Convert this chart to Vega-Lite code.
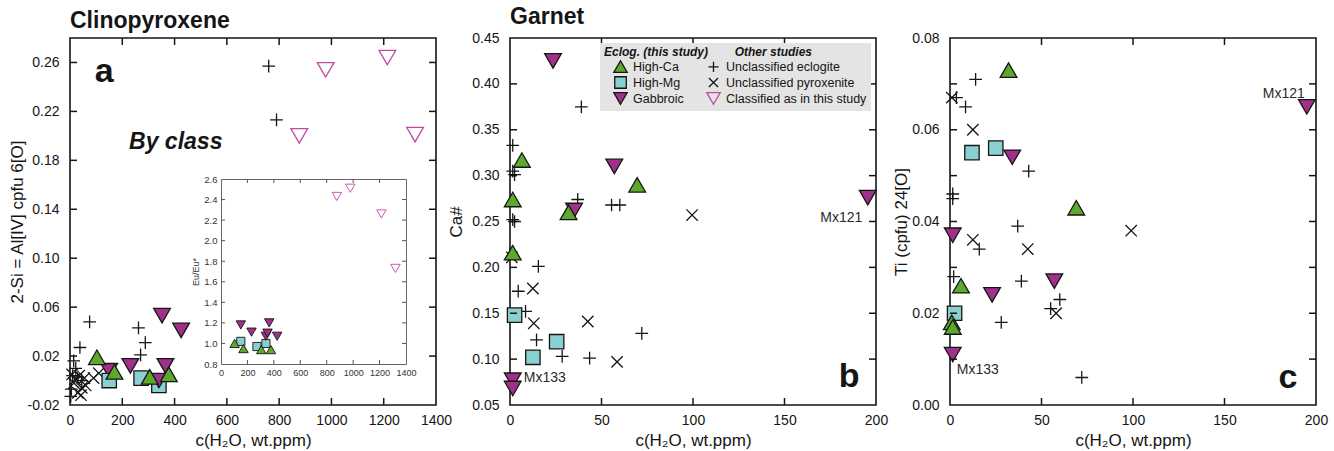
{
  "$schema": "https://vega.github.io/schema/vega-lite/v6.json",
  "background": "white",
  "padding": {"left": 7, "top": 5, "right": 5, "bottom": 5},
  "config": {
    "font": "Liberation Sans",
    "view": {"stroke": "#151515", "strokeWidth": 1.6},
    "axis": {
      "grid": false, "domain": false,
      "labelFont": "Liberation Sans", "labelFontSize": 14, "labelColor": "#151515",
      "titleFont": "Liberation Sans", "titleFontSize": 17, "titleFontWeight": "normal", "titleColor": "#151515", "titlePadding": 5
    },
    "axisX": {"labelPadding": 8},
    "axisY": {"labelPadding": 11},
    "title": {"font": "Liberation Sans", "fontSize": 23, "fontWeight": "bold", "anchor": "start", "frame": "group", "baseline": "alphabetic", "offset": 2, "color": "#151515"},
    "legend": {
      "orient": "top-right", "offset": 5, "fillColor": "#e4e4e4", "padding": 4,
      "columns": 2, "columnPadding": 13, "rowPadding": -4,
      "symbolSize": 180, "symbolStrokeWidth": 1.3, "symbolOffset": 9,
      "labelFont": "Liberation Sans", "labelFontSize": 12.5, "labelColor": "#151515", "labelOffset": 5, "labelLimit": 250,
      "titleFont": "Liberation Sans", "titleFontSize": 12, "titleFontStyle": "italic", "titleFontWeight": "bold", "titleColor": "#151515", "titleLimit": 320, "titlePadding": 0
    }
  },
  "datasets": {
    "xA": [{"t": 200}, {"t": 400}, {"t": 600}, {"t": 800}, {"t": 1000}, {"t": 1200}],
    "yA": [{"t": 0.02}, {"t": 0.06}, {"t": 0.1}, {"t": 0.14}, {"t": 0.18}, {"t": 0.22}, {"t": 0.26}],
    "xG": [{"t": 50}, {"t": 100}, {"t": 150}],
    "yB": [{"t": 0.1}, {"t": 0.15}, {"t": 0.2}, {"t": 0.25}, {"t": 0.3}, {"t": 0.35}, {"t": 0.4}],
    "yC": [{"t": 0.01}, {"t": 0.02}, {"t": 0.03}, {"t": 0.04}, {"t": 0.05}, {"t": 0.06}, {"t": 0.07}],
    "yIn": [{"t": 1.0}, {"t": 1.2}, {"t": 1.4}, {"t": 1.6}, {"t": 1.8}, {"t": 2.0}, {"t": 2.2}, {"t": 2.4}],
    "cpx": [
      {"cls": "Unclassified eclogite", "h2o": 760, "al": 0.257},
      {"cls": "Unclassified eclogite", "h2o": 790, "al": 0.213},
      {"cls": "Unclassified eclogite", "h2o": 75, "al": 0.048},
      {"cls": "Unclassified eclogite", "h2o": 38, "al": 0.027},
      {"cls": "Unclassified eclogite", "h2o": 262, "al": 0.043},
      {"cls": "Unclassified eclogite", "h2o": 288, "al": 0.031},
      {"cls": "Unclassified eclogite", "h2o": 270, "al": 0.021},
      {"cls": "Unclassified eclogite", "h2o": 14, "al": 0.016},
      {"cls": "Unclassified eclogite", "h2o": 22, "al": 0.010},
      {"cls": "Unclassified eclogite", "h2o": 5, "al": -0.007},
      {"cls": "Unclassified eclogite", "h2o": 3, "al": -0.013},
      {"cls": "Unclassified eclogite", "h2o": 30, "al": 0.003},
      {"cls": "Unclassified eclogite", "h2o": 10, "al": 0.004},
      {"cls": "Unclassified eclogite", "h2o": 45, "al": 0.0},
      {"cls": "Unclassified pyroxenite", "h2o": 8, "al": 0.005},
      {"cls": "Unclassified pyroxenite", "h2o": 20, "al": 0.001},
      {"cls": "Unclassified pyroxenite", "h2o": 35, "al": 0.004},
      {"cls": "Unclassified pyroxenite", "h2o": 45, "al": -0.006},
      {"cls": "Unclassified pyroxenite", "h2o": 55, "al": 0.002},
      {"cls": "Unclassified pyroxenite", "h2o": 30, "al": -0.010},
      {"cls": "Unclassified pyroxenite", "h2o": 90, "al": 0.002},
      {"cls": "Unclassified pyroxenite", "h2o": 110, "al": 0.006},
      {"cls": "Unclassified pyroxenite", "h2o": 60, "al": -0.004},
      {"cls": "Unclassified pyroxenite", "h2o": 15, "al": -0.002},
      {"cls": "Unclassified pyroxenite", "h2o": 42, "al": -0.012},
      {"cls": "Gabbroic", "h2o": 150, "al": 0.008, "eu": 1.18},
      {"cls": "High-Mg", "h2o": 150, "al": 0.000, "eu": 1.02},
      {"cls": "High-Mg", "h2o": 272, "al": 0.002, "eu": 0.97},
      {"cls": "High-Mg", "h2o": 340, "al": -0.004, "eu": 1.00},
      {"cls": "Gabbroic", "h2o": 231, "al": 0.012, "eu": 1.11},
      {"cls": "Gabbroic", "h2o": 340, "al": 0.000, "eu": 1.07},
      {"cls": "Gabbroic", "h2o": 352, "al": 0.053, "eu": 1.10},
      {"cls": "Gabbroic", "h2o": 365, "al": 0.012, "eu": 1.20},
      {"cls": "Gabbroic", "h2o": 425, "al": 0.041, "eu": 1.07},
      {"cls": "High-Ca", "h2o": 103, "al": 0.019, "eu": 1.00},
      {"cls": "High-Ca", "h2o": 170, "al": 0.007, "eu": 0.95},
      {"cls": "High-Ca", "h2o": 305, "al": 0.003, "eu": 0.94},
      {"cls": "High-Ca", "h2o": 378, "al": 0.005, "eu": 0.94},
      {"cls": "Classified as in this study", "h2o": 877, "al": 0.200, "eu": 2.43},
      {"cls": "Classified as in this study", "h2o": 978, "al": 0.254, "eu": 2.51},
      {"cls": "Classified as in this study", "h2o": 1214, "al": 0.264, "eu": 2.26},
      {"cls": "Classified as in this study", "h2o": 1320, "al": 0.201, "eu": 1.73}
    ],
    "grtCa": [
      {"cls": "Unclassified eclogite", "h2o": 39, "v": 0.375},
      {"cls": "Unclassified eclogite", "h2o": 1.5, "v": 0.333},
      {"cls": "Unclassified eclogite", "h2o": 1.5, "v": 0.305},
      {"cls": "Unclassified eclogite", "h2o": 2.5, "v": 0.301},
      {"cls": "Unclassified eclogite", "h2o": 37, "v": 0.274},
      {"cls": "Unclassified eclogite", "h2o": 55.5, "v": 0.268},
      {"cls": "Unclassified eclogite", "h2o": 60, "v": 0.268},
      {"cls": "Unclassified eclogite", "h2o": 1.5, "v": 0.252},
      {"cls": "Unclassified eclogite", "h2o": 2.5, "v": 0.250},
      {"cls": "Unclassified eclogite", "h2o": 15.5, "v": 0.201},
      {"cls": "Unclassified eclogite", "h2o": 4.5, "v": 0.174},
      {"cls": "Unclassified eclogite", "h2o": 8.5, "v": 0.152},
      {"cls": "Unclassified eclogite", "h2o": 72, "v": 0.128},
      {"cls": "Unclassified eclogite", "h2o": 14.5, "v": 0.121},
      {"cls": "Unclassified eclogite", "h2o": 28.5, "v": 0.103},
      {"cls": "Unclassified eclogite", "h2o": 43.5, "v": 0.101},
      {"cls": "Unclassified pyroxenite", "h2o": 99.5, "v": 0.257},
      {"cls": "Unclassified pyroxenite", "h2o": 1, "v": 0.211},
      {"cls": "Unclassified pyroxenite", "h2o": 12.5, "v": 0.177},
      {"cls": "Unclassified pyroxenite", "h2o": 13, "v": 0.139},
      {"cls": "Unclassified pyroxenite", "h2o": 42.5, "v": 0.141},
      {"cls": "Unclassified pyroxenite", "h2o": 58.5, "v": 0.097},
      {"cls": "High-Mg", "h2o": 2.5, "v": 0.148},
      {"cls": "High-Mg", "h2o": 25.5, "v": 0.119},
      {"cls": "High-Mg", "h2o": 12.5, "v": 0.102},
      {"cls": "Gabbroic", "h2o": 23.5, "v": 0.425},
      {"cls": "Gabbroic", "h2o": 57, "v": 0.310},
      {"cls": "Gabbroic", "h2o": 35, "v": 0.262},
      {"cls": "Gabbroic", "h2o": 195.5, "v": 0.276},
      {"cls": "Gabbroic", "h2o": 1.5, "v": 0.077},
      {"cls": "Gabbroic", "h2o": 1.5, "v": 0.068},
      {"cls": "High-Ca", "h2o": 6.5, "v": 0.317},
      {"cls": "High-Ca", "h2o": 69.5, "v": 0.290},
      {"cls": "High-Ca", "h2o": 1.5, "v": 0.274},
      {"cls": "High-Ca", "h2o": 32, "v": 0.260},
      {"cls": "High-Ca", "h2o": 1.5, "v": 0.216}
    ],
    "grtTi": [
      {"cls": "Unclassified eclogite", "h2o": 14, "v": 0.071},
      {"cls": "Unclassified eclogite", "h2o": 3.5, "v": 0.067},
      {"cls": "Unclassified eclogite", "h2o": 8.5, "v": 0.065},
      {"cls": "Unclassified eclogite", "h2o": 43, "v": 0.051},
      {"cls": "Unclassified eclogite", "h2o": 1.5, "v": 0.046},
      {"cls": "Unclassified eclogite", "h2o": 1.5, "v": 0.045},
      {"cls": "Unclassified eclogite", "h2o": 37, "v": 0.039},
      {"cls": "Unclassified eclogite", "h2o": 16, "v": 0.034},
      {"cls": "Unclassified eclogite", "h2o": 2, "v": 0.028},
      {"cls": "Unclassified eclogite", "h2o": 39, "v": 0.027},
      {"cls": "Unclassified eclogite", "h2o": 60, "v": 0.023},
      {"cls": "Unclassified eclogite", "h2o": 55, "v": 0.021},
      {"cls": "Unclassified eclogite", "h2o": 28, "v": 0.018},
      {"cls": "Unclassified eclogite", "h2o": 72, "v": 0.006},
      {"cls": "Unclassified pyroxenite", "h2o": 1, "v": 0.067},
      {"cls": "Unclassified pyroxenite", "h2o": 12.5, "v": 0.060},
      {"cls": "Unclassified pyroxenite", "h2o": 99, "v": 0.038},
      {"cls": "Unclassified pyroxenite", "h2o": 12.5, "v": 0.036},
      {"cls": "Unclassified pyroxenite", "h2o": 42.5, "v": 0.034},
      {"cls": "Unclassified pyroxenite", "h2o": 58, "v": 0.020},
      {"cls": "High-Mg", "h2o": 12, "v": 0.055},
      {"cls": "High-Mg", "h2o": 25, "v": 0.056},
      {"cls": "High-Mg", "h2o": 2.5, "v": 0.020},
      {"cls": "Gabbroic", "h2o": 34, "v": 0.054},
      {"cls": "Gabbroic", "h2o": 1.5, "v": 0.037},
      {"cls": "Gabbroic", "h2o": 57, "v": 0.027},
      {"cls": "Gabbroic", "h2o": 23, "v": 0.024},
      {"cls": "Gabbroic", "h2o": 1.5, "v": 0.011},
      {"cls": "Gabbroic", "h2o": 195, "v": 0.065},
      {"cls": "High-Ca", "h2o": 32, "v": 0.073},
      {"cls": "High-Ca", "h2o": 69, "v": 0.043},
      {"cls": "High-Ca", "h2o": 6, "v": 0.026},
      {"cls": "High-Ca", "h2o": 1, "v": 0.018},
      {"cls": "High-Ca", "h2o": 1.5, "v": 0.017}
    ]
  },
  "bounds": "flush",
  "spacing": 74,
  "resolve": {
    "scale": {"shape": "independent", "fill": "independent", "stroke": "independent"},
    "legend": {"shape": "independent", "fill": "independent", "stroke": "independent"}
  },
  "hconcat": [
    {
      "title": "Clinopyroxene",
      "width": 366,
      "height": 367,
      "layer": [
        {
          "layer": [
            {
              "data": {"name": "cpx"},
              "mark": {"type": "point", "filled": true, "opacity": 1, "size": 280, "strokeWidth": 1.3},
              "encoding": {
                "x": {"field": "h2o", "type": "quantitative", "scale": {"domain": [0, 1400], "nice": false, "zero": false},
                      "axis": {"orient": "bottom", "ticks": false, "tickSize": 0, "values": [0, 200, 400, 600, 800, 1000, 1200, 1400], "format": "d", "labelFlush": false, "labelOverlap": false, "title": "c(H₂O, wt.ppm)"}},
                "y": {"field": "al", "type": "quantitative", "scale": {"domain": [-0.02, 0.28], "nice": false, "zero": false},
                      "axis": {"orient": "left", "ticks": false, "tickSize": 0, "values": [-0.02, 0.02, 0.06, 0.1, 0.14, 0.18, 0.22, 0.26], "labelExpr": "replace(format(datum.value, '.2f'), '\u2212', '-')", "titlePadding": 1, "title": "2-Si = Al[IV] cpfu 6[O]"}},
                "shape": {"field": "cls", "type": "nominal", "legend": null,
                          "scale": {"domain": ["High-Ca", "High-Mg", "Gabbroic", "Unclassified eclogite", "Unclassified pyroxenite", "Classified as in this study"],
                                    "range": ["triangle-up", "M-0.86,-0.86H0.86V0.86H-0.86Z", "triangle-down", "M-0.76,0H0.76M0,-0.76V0.76", "M-0.68,-0.68L0.68,0.68M0.68,-0.68L-0.68,0.68", "triangle-down"]}},
                "fill": {"field": "cls", "type": "nominal", "legend": null,
                         "scale": {"domain": ["High-Ca", "High-Mg", "Gabbroic", "Unclassified eclogite", "Unclassified pyroxenite", "Classified as in this study"],
                                   "range": ["#5CA92E", "#8BD0D0", "#A0308C", "transparent", "transparent", "transparent"]}},
                "stroke": {"field": "cls", "type": "nominal", "legend": null,
                           "scale": {"domain": ["High-Ca", "High-Mg", "Gabbroic", "Unclassified eclogite", "Unclassified pyroxenite", "Classified as in this study"],
                                     "range": ["#151515", "#151515", "#151515", "#151515", "#151515", "#C24BA8"]}}
              }
            },
            {
              "data": {"name": "xA"},
              "mark": {"type": "point", "shape": "M0,0V-1", "size": 196, "filled": false, "stroke": "#151515", "strokeWidth": 1.5, "opacity": 1},
              "encoding": {
                "x": {"field": "t", "type": "quantitative", "scale": {"domain": [0, 1400], "nice": false, "zero": false}, "axis": null},
                "y": {"datum": -0.02, "type": "quantitative", "scale": {"domain": [-0.02, 0.28], "nice": false, "zero": false}, "axis": null}
              }
            },
            {
              "data": {"name": "xA"},
              "mark": {"type": "point", "shape": "M0,0V1", "size": 196, "filled": false, "stroke": "#151515", "strokeWidth": 1.5, "opacity": 1},
              "encoding": {
                "x": {"field": "t", "type": "quantitative", "scale": {"domain": [0, 1400], "nice": false, "zero": false}, "axis": null},
                "y": {"datum": 0.28, "type": "quantitative", "scale": {"domain": [-0.02, 0.28], "nice": false, "zero": false}, "axis": null}
              }
            },
            {
              "data": {"name": "yA"},
              "mark": {"type": "point", "shape": "M0,0H1", "size": 196, "filled": false, "stroke": "#151515", "strokeWidth": 1.5, "opacity": 1},
              "encoding": {
                "x": {"datum": 0, "type": "quantitative", "scale": {"domain": [0, 1400], "nice": false, "zero": false}, "axis": null},
                "y": {"field": "t", "type": "quantitative", "scale": {"domain": [-0.02, 0.28], "nice": false, "zero": false}, "axis": null}
              }
            },
            {
              "data": {"name": "yA"},
              "mark": {"type": "point", "shape": "M0,0H-1", "size": 196, "filled": false, "stroke": "#151515", "strokeWidth": 1.5, "opacity": 1},
              "encoding": {
                "x": {"datum": 1400, "type": "quantitative", "scale": {"domain": [0, 1400], "nice": false, "zero": false}, "axis": null},
                "y": {"field": "t", "type": "quantitative", "scale": {"domain": [-0.02, 0.28], "nice": false, "zero": false}, "axis": null}
              }
            },
            {
              "data": {"values": [{"h2o": 95, "al": 0.244, "tag": "a"}]},
              "mark": {"type": "text", "fontSize": 34, "fontWeight": "bold", "align": "left", "baseline": "alphabetic", "color": "#151515"},
              "encoding": {
                "x": {"field": "h2o", "type": "quantitative", "scale": {"domain": [0, 1400], "nice": false, "zero": false}, "axis": null},
                "y": {"field": "al", "type": "quantitative", "scale": {"domain": [-0.02, 0.28], "nice": false, "zero": false}, "axis": null},
                "text": {"field": "tag"}
              }
            },
            {
              "data": {"values": [{"h2o": 226, "al": 0.189, "tag": "By class"}]},
              "mark": {"type": "text", "fontSize": 23, "fontWeight": "bold", "fontStyle": "italic", "align": "left", "baseline": "alphabetic", "color": "#151515"},
              "encoding": {
                "x": {"field": "h2o", "type": "quantitative", "scale": {"domain": [0, 1400], "nice": false, "zero": false}, "axis": null},
                "y": {"field": "al", "type": "quantitative", "scale": {"domain": [-0.02, 0.28], "nice": false, "zero": false}, "axis": null},
                "text": {"field": "tag"}
              }
            }
          ],
          "resolve": {"axis": {"x": "independent", "y": "independent"}}
        },
        {
          "layer": [
            {
              "data": {"name": "cpx"},
              "transform": [{"filter": "isValid(datum.eu)"}],
              "mark": {"type": "point", "filled": true, "opacity": 1, "size": 90, "strokeWidth": 0.9},
              "encoding": {
                "x": {"field": "h2o", "type": "quantitative", "scale": {"domain": [0, 1400], "range": [151, 336], "nice": false, "zero": false},
                      "axis": {"orient": "bottom", "offset": -41, "ticks": false, "tickSize": 0, "values": [0, 200, 400, 600, 800, 1000, 1200, 1400], "format": "d", "labelFlush": false, "labelOverlap": false, "title": null,
                               "domain": true, "domainColor": "#666", "domainWidth": 1,
                               "labelFontSize": 9, "labelColor": "#333", "labelPadding": 4}},
                "y": {"field": "eu", "type": "quantitative", "scale": {"domain": [0.8, 2.6], "range": [326, 141], "nice": false, "zero": false},
                      "axis": {"orient": "left", "offset": -151, "ticks": false, "tickSize": 0, "values": [0.8, 1.0, 1.2, 1.4, 1.6, 1.8, 2.0, 2.2, 2.4, 2.6], "format": ".1f", "labelOverlap": false, "title": "Eu/Eu*",
                               "domain": true, "domainColor": "#666", "domainWidth": 1,
                               "labelFontSize": 9.5, "labelColor": "#333", "labelPadding": 4, "titleFontSize": 9, "titlePadding": 3, "titleColor": "#333"}},
                "shape": {"field": "cls", "type": "nominal", "legend": null,
                          "scale": {"domain": ["High-Ca", "High-Mg", "Gabbroic", "Unclassified eclogite", "Unclassified pyroxenite", "Classified as in this study"],
                                    "range": ["triangle-up", "M-0.86,-0.86H0.86V0.86H-0.86Z", "triangle-down", "M-0.76,0H0.76M0,-0.76V0.76", "M-0.68,-0.68L0.68,0.68M0.68,-0.68L-0.68,0.68", "triangle-down"]}},
                "fill": {"field": "cls", "type": "nominal", "legend": null,
                         "scale": {"domain": ["High-Ca", "High-Mg", "Gabbroic", "Unclassified eclogite", "Unclassified pyroxenite", "Classified as in this study"],
                                   "range": ["#5CA92E", "#8BD0D0", "#A0308C", "transparent", "transparent", "transparent"]}},
                "stroke": {"field": "cls", "type": "nominal", "legend": null,
                           "scale": {"domain": ["High-Ca", "High-Mg", "Gabbroic", "Unclassified eclogite", "Unclassified pyroxenite", "Classified as in this study"],
                                     "range": ["#151515", "#151515", "#151515", "#151515", "#151515", "#C24BA8"]}}
              }
            },
            {
              "data": {"name": "cpx"},
              "transform": [{"filter": "isValid(datum.eu)"}],
              "mark": {"type": "point", "opacity": 0},
              "encoding": {
                "x": {"field": "h2o", "type": "quantitative", "scale": {"domain": [0, 1400], "range": [151, 336], "nice": false, "zero": false},
                      "axis": {"orient": "top", "offset": -141, "ticks": false, "labels": false, "title": null, "domain": true, "domainColor": "#666", "domainWidth": 1}},
                "y": {"field": "eu", "type": "quantitative", "scale": {"domain": [0.8, 2.6], "range": [326, 141], "nice": false, "zero": false},
                      "axis": {"orient": "right", "offset": -30, "ticks": false, "labels": false, "title": null, "domain": true, "domainColor": "#666", "domainWidth": 1}}
              }
            },
            {
              "data": {"name": "xA"},
              "mark": {"type": "point", "shape": "M0,0V-1", "size": 64, "filled": false, "stroke": "#555", "strokeWidth": 1, "opacity": 1},
              "encoding": {
                "x": {"field": "t", "type": "quantitative", "scale": {"domain": [0, 1400], "range": [151, 336], "nice": false, "zero": false}, "axis": null},
                "y": {"datum": 0.8, "type": "quantitative", "scale": {"domain": [0.8, 2.6], "range": [326, 141], "nice": false, "zero": false}, "axis": null}
              }
            },
            {
              "data": {"name": "xA"},
              "mark": {"type": "point", "shape": "M0,0V1", "size": 64, "filled": false, "stroke": "#555", "strokeWidth": 1, "opacity": 1},
              "encoding": {
                "x": {"field": "t", "type": "quantitative", "scale": {"domain": [0, 1400], "range": [151, 336], "nice": false, "zero": false}, "axis": null},
                "y": {"datum": 2.6, "type": "quantitative", "scale": {"domain": [0.8, 2.6], "range": [326, 141], "nice": false, "zero": false}, "axis": null}
              }
            },
            {
              "data": {"name": "yIn"},
              "mark": {"type": "point", "shape": "M0,0H1", "size": 64, "filled": false, "stroke": "#555", "strokeWidth": 1, "opacity": 1},
              "encoding": {
                "x": {"datum": 0, "type": "quantitative", "scale": {"domain": [0, 1400], "range": [151, 336], "nice": false, "zero": false}, "axis": null},
                "y": {"field": "t", "type": "quantitative", "scale": {"domain": [0.8, 2.6], "range": [326, 141], "nice": false, "zero": false}, "axis": null}
              }
            },
            {
              "data": {"name": "yIn"},
              "mark": {"type": "point", "shape": "M0,0H-1", "size": 64, "filled": false, "stroke": "#555", "strokeWidth": 1, "opacity": 1},
              "encoding": {
                "x": {"datum": 1400, "type": "quantitative", "scale": {"domain": [0, 1400], "range": [151, 336], "nice": false, "zero": false}, "axis": null},
                "y": {"field": "t", "type": "quantitative", "scale": {"domain": [0.8, 2.6], "range": [326, 141], "nice": false, "zero": false}, "axis": null}
              }
            }
          ],
          "resolve": {"axis": {"x": "independent", "y": "independent"}}
        }
      ],
      "resolve": {"scale": {"x": "independent", "y": "independent"}, "axis": {"x": "independent", "y": "independent"}}
    },
    {
      "title": "Garnet",
      "width": 366,
      "height": 367,
      "layer": [
        {
          "data": {"name": "grtCa"},
          "mark": {"type": "point", "filled": true, "opacity": 1, "size": 280, "strokeWidth": 1.3},
          "encoding": {
            "x": {"field": "h2o", "type": "quantitative", "scale": {"domain": [0, 200], "nice": false, "zero": false},
                  "axis": {"orient": "bottom", "ticks": false, "tickSize": 0, "values": [0, 50, 100, 150, 200], "format": "d", "labelFlush": false, "title": "c(H₂O, wt.ppm)"}},
            "y": {"field": "v", "type": "quantitative", "scale": {"domain": [0.05, 0.45], "nice": false, "zero": false},
                  "axis": {"orient": "left", "ticks": false, "tickSize": 0, "values": [0.05, 0.1, 0.15, 0.2, 0.25, 0.3, 0.35, 0.4, 0.45], "format": ".2f", "labelFlush": false, "titlePadding": 6, "title": "Ca#"}},
            "shape": {"field": "cls", "type": "nominal",
                      "title": "Eclog. (this study)\u00a0\u00a0\u00a0\u00a0\u00a0\u00a0\u00a0\u00a0Other studies",
                      "legend": {"symbolSize": 180},
                      "scale": {"domain": ["High-Ca", "High-Mg", "Gabbroic", "Unclassified eclogite", "Unclassified pyroxenite", "Classified as in this study"],
                                "range": ["triangle-up", "M-0.86,-0.86H0.86V0.86H-0.86Z", "triangle-down", "M-0.76,0H0.76M0,-0.76V0.76", "M-0.68,-0.68L0.68,0.68M0.68,-0.68L-0.68,0.68", "triangle-down"]}},
            "fill": {"field": "cls", "type": "nominal",
                     "title": "Eclog. (this study)\u00a0\u00a0\u00a0\u00a0\u00a0\u00a0\u00a0\u00a0Other studies",
                     "scale": {"domain": ["High-Ca", "High-Mg", "Gabbroic", "Unclassified eclogite", "Unclassified pyroxenite", "Classified as in this study"],
                               "range": ["#5CA92E", "#8BD0D0", "#A0308C", "transparent", "transparent", "transparent"]}},
            "stroke": {"field": "cls", "type": "nominal",
                       "title": "Eclog. (this study)\u00a0\u00a0\u00a0\u00a0\u00a0\u00a0\u00a0\u00a0Other studies",
                       "scale": {"domain": ["High-Ca", "High-Mg", "Gabbroic", "Unclassified eclogite", "Unclassified pyroxenite", "Classified as in this study"],
                                 "range": ["#151515", "#151515", "#151515", "#151515", "#151515", "#C24BA8"]}}
          }
        },
        {
          "data": {"name": "xG"},
          "mark": {"type": "point", "shape": "M0,0V-1", "size": 196, "filled": false, "stroke": "#151515", "strokeWidth": 1.5, "opacity": 1},
          "encoding": {
            "x": {"field": "t", "type": "quantitative", "scale": {"domain": [0, 200], "nice": false, "zero": false}, "axis": null},
            "y": {"datum": 0.05, "type": "quantitative", "scale": {"domain": [0.05, 0.45], "nice": false, "zero": false}, "axis": null}
          }
        },
        {
          "data": {"name": "xG"},
          "mark": {"type": "point", "shape": "M0,0V1", "size": 196, "filled": false, "stroke": "#151515", "strokeWidth": 1.5, "opacity": 1},
          "encoding": {
            "x": {"field": "t", "type": "quantitative", "scale": {"domain": [0, 200], "nice": false, "zero": false}, "axis": null},
            "y": {"datum": 0.45, "type": "quantitative", "scale": {"domain": [0.05, 0.45], "nice": false, "zero": false}, "axis": null}
          }
        },
        {
          "data": {"name": "yB"},
          "mark": {"type": "point", "shape": "M0,0H1", "size": 196, "filled": false, "stroke": "#151515", "strokeWidth": 1.5, "opacity": 1},
          "encoding": {
            "x": {"datum": 0, "type": "quantitative", "scale": {"domain": [0, 200], "nice": false, "zero": false}, "axis": null},
            "y": {"field": "t", "type": "quantitative", "scale": {"domain": [0.05, 0.45], "nice": false, "zero": false}, "axis": null}
          }
        },
        {
          "data": {"name": "yB"},
          "mark": {"type": "point", "shape": "M0,0H-1", "size": 196, "filled": false, "stroke": "#151515", "strokeWidth": 1.5, "opacity": 1},
          "encoding": {
            "x": {"datum": 200, "type": "quantitative", "scale": {"domain": [0, 200], "nice": false, "zero": false}, "axis": null},
            "y": {"field": "t", "type": "quantitative", "scale": {"domain": [0.05, 0.45], "nice": false, "zero": false}, "axis": null}
          }
        },
        {
          "data": {"values": [{"h2o": 179.6, "v": 0.070, "tag": "b"}]},
          "mark": {"type": "text", "fontSize": 34, "fontWeight": "bold", "align": "left", "baseline": "alphabetic", "color": "#151515"},
          "encoding": {
            "x": {"field": "h2o", "type": "quantitative", "scale": {"domain": [0, 200], "nice": false, "zero": false}, "axis": null},
            "y": {"field": "v", "type": "quantitative", "scale": {"domain": [0.05, 0.45], "nice": false, "zero": false}, "axis": null},
            "text": {"field": "tag"}
          }
        },
        {
          "data": {"values": [{"h2o": 169.6, "v": 0.2535, "tag": "Mx121"}, {"h2o": 7.5, "v": 0.079, "tag": "Mx133"}]},
          "mark": {"type": "text", "fontSize": 14, "align": "left", "baseline": "middle", "color": "#2a2a2a"},
          "encoding": {
            "x": {"field": "h2o", "type": "quantitative", "scale": {"domain": [0, 200], "nice": false, "zero": false}, "axis": null},
            "y": {"field": "v", "type": "quantitative", "scale": {"domain": [0.05, 0.45], "nice": false, "zero": false}, "axis": null},
            "text": {"field": "tag"}
          }
        }
      ],
      "resolve": {"axis": {"x": "independent", "y": "independent"}}
    },
    {
      "width": 366,
      "height": 367,
      "layer": [
        {
          "data": {"name": "grtTi"},
          "mark": {"type": "point", "filled": true, "opacity": 1, "size": 280, "strokeWidth": 1.3},
          "encoding": {
            "x": {"field": "h2o", "type": "quantitative", "scale": {"domain": [0, 200], "nice": false, "zero": false},
                  "axis": {"orient": "bottom", "ticks": false, "tickSize": 0, "values": [0, 50, 100, 150, 200], "format": "d", "labelFlush": false, "title": "c(H₂O, wt.ppm)"}},
            "y": {"field": "v", "type": "quantitative", "scale": {"domain": [0, 0.08], "nice": false, "zero": false},
                  "axis": {"orient": "left", "ticks": false, "tickSize": 0, "values": [0, 0.02, 0.04, 0.06, 0.08], "format": ".2f", "labelFlush": false, "titlePadding": 1.5, "title": "Ti (cpfu) 24[O]"}},
            "shape": {"field": "cls", "type": "nominal", "legend": null,
                      "scale": {"domain": ["High-Ca", "High-Mg", "Gabbroic", "Unclassified eclogite", "Unclassified pyroxenite", "Classified as in this study"],
                                "range": ["triangle-up", "M-0.86,-0.86H0.86V0.86H-0.86Z", "triangle-down", "M-0.76,0H0.76M0,-0.76V0.76", "M-0.68,-0.68L0.68,0.68M0.68,-0.68L-0.68,0.68", "triangle-down"]}},
            "fill": {"field": "cls", "type": "nominal", "legend": null,
                     "scale": {"domain": ["High-Ca", "High-Mg", "Gabbroic", "Unclassified eclogite", "Unclassified pyroxenite", "Classified as in this study"],
                               "range": ["#5CA92E", "#8BD0D0", "#A0308C", "transparent", "transparent", "transparent"]}},
            "stroke": {"field": "cls", "type": "nominal", "legend": null,
                       "scale": {"domain": ["High-Ca", "High-Mg", "Gabbroic", "Unclassified eclogite", "Unclassified pyroxenite", "Classified as in this study"],
                                 "range": ["#151515", "#151515", "#151515", "#151515", "#151515", "#C24BA8"]}}
          }
        },
        {
          "data": {"name": "xG"},
          "mark": {"type": "point", "shape": "M0,0V-1", "size": 196, "filled": false, "stroke": "#151515", "strokeWidth": 1.5, "opacity": 1},
          "encoding": {
            "x": {"field": "t", "type": "quantitative", "scale": {"domain": [0, 200], "nice": false, "zero": false}, "axis": null},
            "y": {"datum": 0, "type": "quantitative", "scale": {"domain": [0, 0.08], "nice": false, "zero": false}, "axis": null}
          }
        },
        {
          "data": {"name": "xG"},
          "mark": {"type": "point", "shape": "M0,0V1", "size": 196, "filled": false, "stroke": "#151515", "strokeWidth": 1.5, "opacity": 1},
          "encoding": {
            "x": {"field": "t", "type": "quantitative", "scale": {"domain": [0, 200], "nice": false, "zero": false}, "axis": null},
            "y": {"datum": 0.08, "type": "quantitative", "scale": {"domain": [0, 0.08], "nice": false, "zero": false}, "axis": null}
          }
        },
        {
          "data": {"name": "yC"},
          "mark": {"type": "point", "shape": "M0,0H1", "size": 196, "filled": false, "stroke": "#151515", "strokeWidth": 1.5, "opacity": 1},
          "encoding": {
            "x": {"datum": 0, "type": "quantitative", "scale": {"domain": [0, 200], "nice": false, "zero": false}, "axis": null},
            "y": {"field": "t", "type": "quantitative", "scale": {"domain": [0, 0.08], "nice": false, "zero": false}, "axis": null}
          }
        },
        {
          "data": {"name": "yC"},
          "mark": {"type": "point", "shape": "M0,0H-1", "size": 196, "filled": false, "stroke": "#151515", "strokeWidth": 1.5, "opacity": 1},
          "encoding": {
            "x": {"datum": 200, "type": "quantitative", "scale": {"domain": [0, 200], "nice": false, "zero": false}, "axis": null},
            "y": {"field": "t", "type": "quantitative", "scale": {"domain": [0, 0.08], "nice": false, "zero": false}, "axis": null}
          }
        },
        {
          "data": {"values": [{"h2o": 179.5, "v": 0.0038, "tag": "c"}]},
          "mark": {"type": "text", "fontSize": 34, "fontWeight": "bold", "align": "left", "baseline": "alphabetic", "color": "#151515"},
          "encoding": {
            "x": {"field": "h2o", "type": "quantitative", "scale": {"domain": [0, 200], "nice": false, "zero": false}, "axis": null},
            "y": {"field": "v", "type": "quantitative", "scale": {"domain": [0, 0.08], "nice": false, "zero": false}, "axis": null},
            "text": {"field": "tag"}
          }
        },
        {
          "data": {"values": [{"h2o": 170.9, "v": 0.0679, "tag": "Mx121"}, {"h2o": 3.7, "v": 0.0076, "tag": "Mx133"}]},
          "mark": {"type": "text", "fontSize": 14, "align": "left", "baseline": "middle", "color": "#2a2a2a"},
          "encoding": {
            "x": {"field": "h2o", "type": "quantitative", "scale": {"domain": [0, 200], "nice": false, "zero": false}, "axis": null},
            "y": {"field": "v", "type": "quantitative", "scale": {"domain": [0, 0.08], "nice": false, "zero": false}, "axis": null},
            "text": {"field": "tag"}
          }
        }
      ],
      "resolve": {"axis": {"x": "independent", "y": "independent"}}
    }
  ]
}
